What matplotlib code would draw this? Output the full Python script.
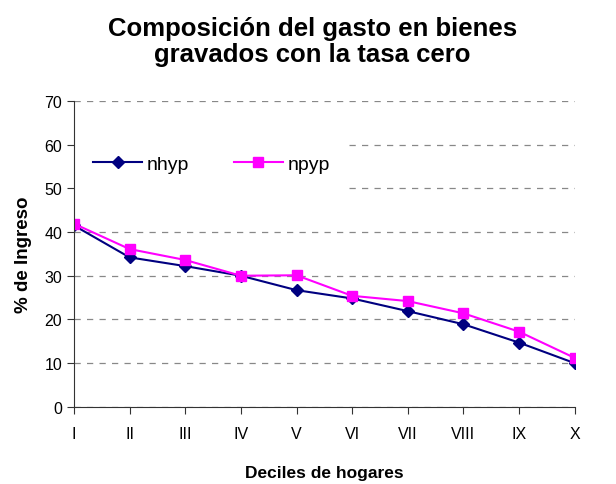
import matplotlib
matplotlib.use("Agg")
import matplotlib.pyplot as plt

plt.rcParams['font.family'] = ['Liberation Sans', 'DejaVu Sans']

deciles = ["I", "II", "III", "IV", "V", "VI", "VII", "VIII", "IX", "X"]
nhyp = [41.5, 34.2, 32.2, 30.0, 26.7, 24.8, 21.9, 18.9, 14.7, 10.0]
npyp = [41.9, 36.1, 33.6, 30.0, 30.1, 25.4, 24.2, 21.4, 17.2, 11.2]
yticks = [0, 10, 20, 30, 40, 50, 60, 70]

fig = plt.figure(figsize=(6.16, 4.85), dpi=100)
ax = fig.add_axes([0.120, 0.159, 0.813, 0.631])

x = list(range(len(deciles)))
ax.plot(x, nhyp, color='#000080', marker='D', markersize=6, linewidth=1.5, label='nhyp', zorder=3)
ax.plot(x, npyp, color='#FF00FF', marker='s', markersize=7, linewidth=1.5, label='npyp', zorder=3)

ax.set_xlim(0, len(deciles) - 1)
ax.set_ylim(0, 70)
ax.set_yticks(yticks)
ax.set_xticks(x)
ax.set_xticklabels(deciles)
ax.tick_params(axis='both', labelsize=11.5, length=5, color='#333333', direction='out')
ax.tick_params(axis='x', pad=9)
ax.yaxis.grid(True, linestyle=(0, (5, 5)), color='#888888', linewidth=0.9)
ax.set_axisbelow(True)
for s in ['top', 'right']:
    ax.spines[s].set_visible(False)
for s in ['left', 'bottom']:
    ax.spines[s].set_color('#333333')
    ax.spines[s].set_zorder(6)

ax.set_ylabel('% de Ingreso', fontsize=13.5, fontweight='bold', labelpad=9)
ax.set_xlabel('Deciles de hogares', fontsize=12.5, fontweight='bold', labelpad=17)
fig.suptitle('Composición del gasto en bienes\ngravados con la tasa cero', fontsize=18.5,
             fontweight='bold', x=0.507, y=0.965, linespacing=1.1)

leg = ax.legend(loc='upper left', bbox_to_anchor=(0.0, 0.885), borderaxespad=0, ncol=2,
                fontsize=14, frameon=True, facecolor='white', edgecolor='none', framealpha=1,
                fancybox=False, handlelength=2.5, columnspacing=2.3, borderpad=1.0,
                handletextpad=0.25)
leg.set_zorder(5)

fig.savefig('out.png', dpi=100)
